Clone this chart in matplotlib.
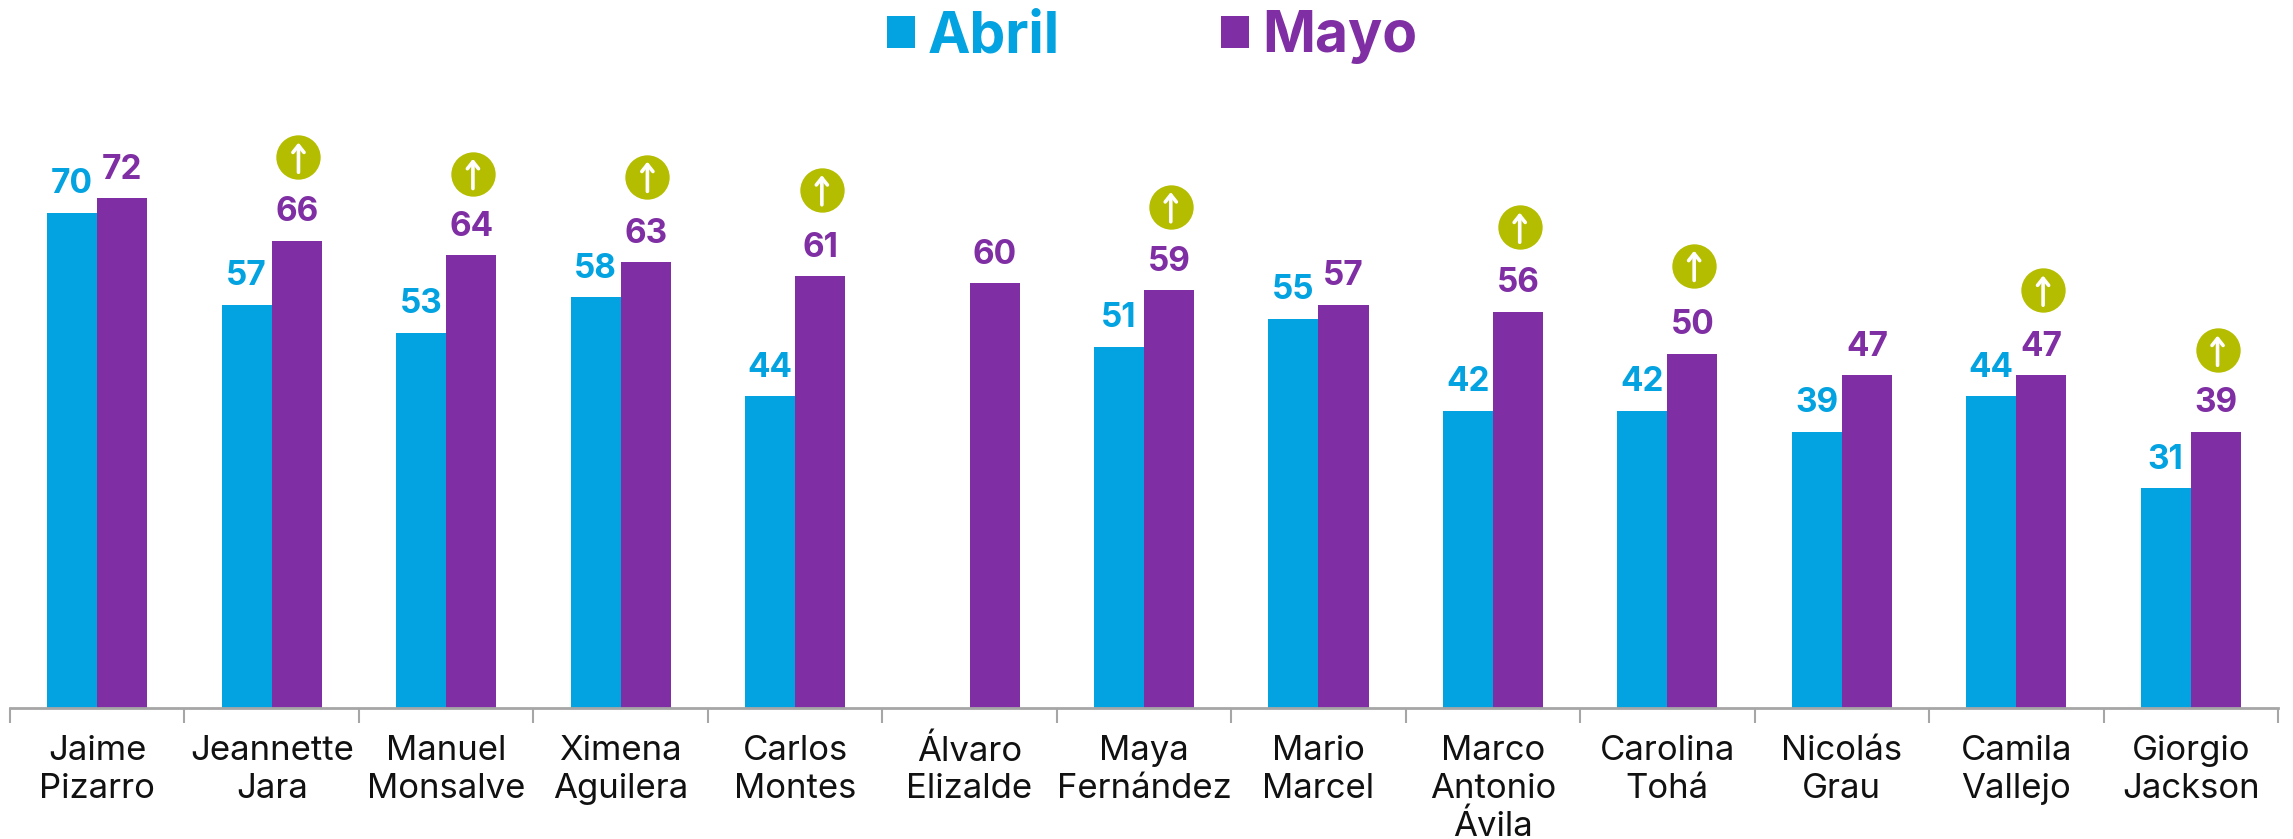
# Encuesta: Abril vs Mayo, barras agrupadas
import numpy as np
import matplotlib
matplotlib.use('Agg')
import matplotlib.pyplot as plt

nombres = ['Jaime\nPizarro', 'Jeannette\nJara', 'Manuel\nMonsalve', 'Ximena\nAguilera',
           'Carlos\nMontes', 'Álvaro\nElizalde', 'Maya\nFernández', 'Mario\nMarcel',
           'Marco\nAntonio\nÁvila', 'Carolina\nTohá', 'Nicolás\nGrau', 'Camila\nVallejo',
           'Giorgio\nJackson']
abril = [70, 57, 53, 58, 44, np.nan, 51, 55, 42, 42, 39, 44, 31]
mayo = [72, 66, 64, 63, 61, 60, 59, 57, 56, 50, 47, 47, 39]

# categorias con flecha de subida y altura del circulo, en unidades del eje
flecha_idx = [1, 2, 3, 4, 6, 8, 9, 11, 12]
flecha_y = [77.8, 75.5, 75.1, 73.2, 70.8, 67.9, 62.5, 59.0, 50.5]

AZUL = '#03A2E0'
MORADO = '#7F2FA3'
VERDE = '#B5BD00'
GRIS = '#A6A6A6'

plt.rcParams['font.family'] = ['Inter', 'DejaVu Sans']

W, H = 2293, 839
fig = plt.figure(figsize=(W / 100, H / 100), dpi=100)
ax = fig.add_axes([10 / W, (H - 707.5) / H, (2278 - 10) / W, 707.5 / H])

x = np.arange(len(nombres))
ancho = 0.287
b1 = ax.bar(x - ancho / 2, abril, ancho, color=AZUL, label='Abril')
b2 = ax.bar(x + ancho / 2, mayo, ancho, color=MORADO, label='Mayo')

ax.bar_label(b1, padding=9, color=AZUL, fontsize=24, fontweight='bold')
ax.bar_label(b2, padding=9, color=MORADO, fontsize=24, fontweight='bold')

# circulos verdes con flecha blanca
fx = x[flecha_idx] + ancho / 2 + 0.01
ax.scatter(fx, flecha_y, s=1020, color=VERDE, linewidths=0, zorder=3, clip_on=False)
for xi, yi in zip(fx, flecha_y):
    ax.annotate('', xy=(xi, yi + 2.1), xytext=(xi, yi - 2.1), zorder=4,
                arrowprops=dict(arrowstyle='->,head_length=0.5,head_width=0.4', color='white',
                                lw=2.6, shrinkA=0, shrinkB=0))

ax.set_xlim(-0.5, 12.5)
ax.set_ylim(0, 707.5 / 7.07)
for lado in ['top', 'right', 'left']:
    ax.spines[lado].set_visible(False)
ax.spines['bottom'].set_color(GRIS)
ax.spines['bottom'].set_linewidth(2)
ax.set_yticks([])

ax.set_xticks(x)
ax.set_xticklabels(nombres, fontsize=25, color='#111111', linespacing=1.22)
ax.tick_params(axis='x', which='major', length=0, pad=20)
ax.set_xticks(np.arange(-0.5, 13), minor=True)
ax.tick_params(axis='x', which='minor', length=11, width=1.5, color=GRIS)

leg = ax.legend(loc='upper center', bbox_to_anchor=(0.5035, 1.058), ncol=2, frameon=False,
                prop={'size': 41, 'weight': 'bold'}, handlelength=0.5, handleheight=0.5,
                handletextpad=0.22, columnspacing=2.83)
for txt, col in zip(leg.get_texts(), [AZUL, MORADO]):
    txt.set_color(col)

fig.savefig('out.png', dpi=100, facecolor='white')
